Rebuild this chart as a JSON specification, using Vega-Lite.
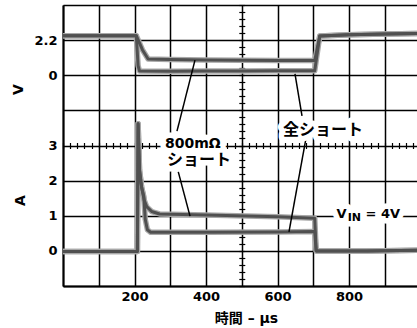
{
  "$schema": "https://vega.github.io/schema/vega-lite/v6.json",
  "width": 354,
  "height": 281,
  "autosize": {"type": "none"},
  "padding": {"left": 63, "top": 5, "right": 0, "bottom": 42},
  "background": "white",
  "config": {
    "view": {"stroke": null},
    "axis": {"labelFont": "DejaVu Sans", "labelFontWeight": "bold", "labelFontSize": 13, "labelColor": "#000", "titleFont": "DejaVu Sans, Noto Sans CJK JP", "titleFontWeight": "bold", "titleFontSize": 14, "titleColor": "#000", "grid": false, "ticks": false, "domain": false, "labelOverlap": false, "labelBound": false, "zindex": 0},
    "text": {"font": "DejaVu Sans, Noto Sans CJK JP", "fontWeight": "bold", "color": "#000"}
  },
  "datasets": {
    "volt": [
      {"s": "800mΩ", "t": 0, "v": 2.48}, {"s": "800mΩ", "t": 100, "v": 2.48}, {"s": "800mΩ", "t": 205, "v": 2.48}, {"s": "800mΩ", "t": 222, "v": 1.6}, {"s": "800mΩ", "t": 238, "v": 1.02}, {"s": "800mΩ", "t": 300, "v": 0.98}, {"s": "800mΩ", "t": 400, "v": 0.96}, {"s": "800mΩ", "t": 500, "v": 0.94}, {"s": "800mΩ", "t": 600, "v": 0.92}, {"s": "800mΩ", "t": 704, "v": 0.92}, {"s": "800mΩ", "t": 718, "v": 2.46}, {"s": "800mΩ", "t": 800, "v": 2.54}, {"s": "800mΩ", "t": 900, "v": 2.58}, {"s": "800mΩ", "t": 990, "v": 2.62},
      {"s": "全ショート", "t": 0, "v": 2.48}, {"s": "全ショート", "t": 100, "v": 2.48}, {"s": "全ショート", "t": 205, "v": 2.48}, {"s": "全ショート", "t": 210, "v": 0.6}, {"s": "全ショート", "t": 214, "v": 0.26}, {"s": "全ショート", "t": 300, "v": 0.25}, {"s": "全ショート", "t": 400, "v": 0.26}, {"s": "全ショート", "t": 500, "v": 0.27}, {"s": "全ショート", "t": 600, "v": 0.28}, {"s": "全ショート", "t": 704, "v": 0.28}, {"s": "全ショート", "t": 718, "v": 2.46}, {"s": "全ショート", "t": 800, "v": 2.54}, {"s": "全ショート", "t": 900, "v": 2.58}, {"s": "全ショート", "t": 990, "v": 2.62}
    ],
    "amp": [
      {"s": "800mΩ", "t": 0, "a": -0.02}, {"s": "800mΩ", "t": 100, "a": -0.02}, {"s": "800mΩ", "t": 208, "a": -0.02}, {"s": "800mΩ", "t": 210, "a": 3.62}, {"s": "800mΩ", "t": 214, "a": 2.3}, {"s": "800mΩ", "t": 220, "a": 1.8}, {"s": "800mΩ", "t": 227, "a": 1.45}, {"s": "800mΩ", "t": 234, "a": 1.26}, {"s": "800mΩ", "t": 248, "a": 1.12}, {"s": "800mΩ", "t": 270, "a": 1.05}, {"s": "800mΩ", "t": 400, "a": 1.02}, {"s": "800mΩ", "t": 600, "a": 0.97}, {"s": "800mΩ", "t": 704, "a": 0.93}, {"s": "800mΩ", "t": 708, "a": 0.0}, {"s": "800mΩ", "t": 850, "a": 0.0}, {"s": "800mΩ", "t": 990, "a": 0.02},
      {"s": "全ショート", "t": 0, "a": -0.02}, {"s": "全ショート", "t": 100, "a": -0.02}, {"s": "全ショート", "t": 208, "a": -0.02}, {"s": "全ショート", "t": 210, "a": 3.62}, {"s": "全ショート", "t": 214, "a": 2.3}, {"s": "全ショート", "t": 220, "a": 1.8}, {"s": "全ショート", "t": 226, "a": 1.55}, {"s": "全ショート", "t": 230, "a": 0.9}, {"s": "全ショート", "t": 236, "a": 0.6}, {"s": "全ショート", "t": 245, "a": 0.53}, {"s": "全ショート", "t": 400, "a": 0.53}, {"s": "全ショート", "t": 600, "a": 0.54}, {"s": "全ショート", "t": 704, "a": 0.55}, {"s": "全ショート", "t": 708, "a": 0.0}, {"s": "全ショート", "t": 850, "a": 0.0}, {"s": "全ショート", "t": 990, "a": 0.02}
    ],
    "lead": [
      {"id": 1, "t": 369.1, "a": 5.43}, {"id": 1, "t": 318.8, "a": 3.41},
      {"id": 2, "t": 322.4, "a": 2.25}, {"id": 2, "t": 355.2, "a": 0.99},
      {"id": 3, "t": 648.8, "a": 5.04}, {"id": 3, "t": 668.4, "a": 3.84},
      {"id": 4, "t": 679.6, "a": 3.21}, {"id": 4, "t": 632.0, "a": 0.54}
    ],
    "notes": [
      {"txt": "800mΩ", "t": 285, "a": 2.92, "k": "lat"},
      {"txt": "ショート", "t": 291, "a": 2.44, "k": "jp"},
      {"txt": "全ショート", "t": 615, "a": 3.30, "k": "jp"},
      {"txt": "V", "t": 765, "a": 0.927, "k": "vin"},
      {"txt": "IN", "t": 796, "a": 0.86, "k": "sub"},
      {"txt": "= 4V", "t": 846, "a": 0.927, "k": "vin"}
    ]
  },
  "layer": [
    {
      "data": {"name": "volt"},
      "layer": [
        {
          "mark": {"type": "line", "stroke": "#a8a8a8", "strokeWidth": 5.5, "strokeJoin": "round"},
          "encoding": {
            "x": {"field": "t", "type": "quantitative", "scale": {"domain": [0, 990], "nice": false, "zero": false}, "axis": null},
            "y": {"field": "v", "type": "quantitative", "scale": {"domain": [-13.2, 4.4], "nice": false, "zero": false}, "axis": null},
            "detail": {"field": "s"}
          }
        },
        {
          "mark": {"type": "line", "stroke": "#505050", "strokeWidth": 3, "strokeJoin": "round"},
          "encoding": {
            "x": {"field": "t", "type": "quantitative", "scale": {"domain": [0, 990], "nice": false, "zero": false}, "axis": null},
            "y": {"field": "v", "type": "quantitative", "scale": {"domain": [-13.2, 4.4], "nice": false, "zero": false},
              "axis": {"orient": "left", "values": [0, 2.2], "format": ".1~f", "labelPadding": 6, "title": "V", "titleX": -45, "titleY": 84, "titleAngle": 270, "titleAlign": "center", "titleBaseline": "middle"}},
            "detail": {"field": "s"}
          }
        }
      ],
      "resolve": {"axis": {"x": "independent", "y": "independent"}}
    },
    {
      "layer": [
        {
          "data": {"name": "amp"},
          "mark": {"type": "line", "stroke": "#a8a8a8", "strokeWidth": 5.5, "strokeJoin": "round"},
          "encoding": {
            "x": {"field": "t", "type": "quantitative", "scale": {"domain": [0, 990], "nice": false, "zero": false}, "axis": null},
            "y": {"field": "a", "type": "quantitative", "scale": {"domain": [-1, 7], "nice": false, "zero": false}, "axis": null},
            "detail": {"field": "s"}
          }
        },
        {
          "data": {"name": "amp"},
          "mark": {"type": "line", "stroke": "#505050", "strokeWidth": 3, "strokeJoin": "round"},
          "encoding": {
            "x": {"field": "t", "type": "quantitative", "scale": {"domain": [0, 990], "nice": false, "zero": false},
              "axis": {"orient": "bottom", "values": [0, 100, 200, 300, 400, 500, 600, 700, 800, 900], "format": "d", "grid": true, "gridColor": "#000", "gridWidth": 1.5, "gridOpacity": 1, "domain": true, "domainColor": "#000", "domainWidth": 2, "labelExpr": "datum.value % 200 == 0 && datum.value > 0 ? datum.label : ''", "labelPadding": 4, "labelFlush": false, "title": "時間 – μs", "titleX": 183, "titleY": 32, "titleAlign": "center", "titleBaseline": "middle"}},
            "y": {"field": "a", "type": "quantitative", "scale": {"domain": [-1, 7], "nice": false, "zero": false},
              "axis": {"orient": "left", "values": [-1, 0, 1, 2, 3, 4, 5, 6, 7], "format": "d", "grid": true, "gridColor": "#000", "gridWidth": 1.5, "gridOpacity": 1, "domain": true, "domainColor": "#000", "domainWidth": 2, "labelExpr": "datum.value >= 0 && datum.value <= 3 ? datum.label : ''", "labelPadding": 6, "title": "A", "titleX": -43, "titleY": 195, "titleAngle": 270, "titleAlign": "center", "titleBaseline": "middle"}},
            "detail": {"field": "s"}
          }
        },
        {
          "data": {"name": "lead"},
          "mark": {"type": "line", "stroke": "#000", "strokeWidth": 1.5},
          "encoding": {
            "x": {"field": "t", "type": "quantitative", "scale": {"domain": [0, 990], "nice": false, "zero": false},
              "axis": {"orient": "bottom", "offset": -143.5, "tickCount": 50, "ticks": true, "tickSize": 6, "tickColor": "#000", "tickWidth": 1.2, "labels": false, "domain": false, "grid": false, "title": null}},
            "y": {"field": "a", "type": "quantitative", "scale": {"domain": [-1, 7], "nice": false, "zero": false},
              "axis": {"orient": "left", "offset": -181.8, "tickCount": 40, "ticks": true, "tickSize": 6, "tickColor": "#000", "tickWidth": 1.2, "labels": false, "domain": false, "grid": false, "title": null}},
            "detail": {"field": "id"}
          }
        },
        {
          "data": {"name": "notes"},
          "transform": [{"filter": "datum.k == 'lat'"}],
          "mark": {"type": "text", "align": "left", "baseline": "alphabetic", "fontSize": 14, "fill": "#fff", "stroke": "#fff", "strokeWidth": 11, "strokeJoin": "round"},
          "encoding": {
            "x": {"field": "t", "type": "quantitative", "scale": {"domain": [0, 990], "nice": false, "zero": false}, "axis": null},
            "y": {"field": "a", "type": "quantitative", "scale": {"domain": [-1, 7], "nice": false, "zero": false}, "axis": null},
            "text": {"field": "txt"}
          }
        },
        {
          "data": {"name": "notes"},
          "transform": [{"filter": "datum.k == 'jp'"}],
          "mark": {"type": "text", "align": "left", "baseline": "alphabetic", "fontSize": 16, "fill": "#fff", "stroke": "#fff", "strokeWidth": 11, "strokeJoin": "round"},
          "encoding": {
            "x": {"field": "t", "type": "quantitative", "scale": {"domain": [0, 990], "nice": false, "zero": false}, "axis": null},
            "y": {"field": "a", "type": "quantitative", "scale": {"domain": [-1, 7], "nice": false, "zero": false}, "axis": null},
            "text": {"field": "txt"}
          }
        },
        {
          "data": {"name": "notes"},
          "transform": [{"filter": "datum.k == 'vin'"}],
          "mark": {"type": "text", "align": "left", "baseline": "alphabetic", "fontSize": 13, "fill": "#fff", "stroke": "#fff", "strokeWidth": 11, "strokeJoin": "round"},
          "encoding": {
            "x": {"field": "t", "type": "quantitative", "scale": {"domain": [0, 990], "nice": false, "zero": false}, "axis": null},
            "y": {"field": "a", "type": "quantitative", "scale": {"domain": [-1, 7], "nice": false, "zero": false}, "axis": null},
            "text": {"field": "txt"}
          }
        },
        {
          "data": {"name": "notes"},
          "transform": [{"filter": "datum.k == 'sub'"}],
          "mark": {"type": "text", "align": "left", "baseline": "alphabetic", "fontSize": 11, "fill": "#fff", "stroke": "#fff", "strokeWidth": 11, "strokeJoin": "round"},
          "encoding": {
            "x": {"field": "t", "type": "quantitative", "scale": {"domain": [0, 990], "nice": false, "zero": false}, "axis": null},
            "y": {"field": "a", "type": "quantitative", "scale": {"domain": [-1, 7], "nice": false, "zero": false}, "axis": null},
            "text": {"field": "txt"}
          }
        },
        {
          "data": {"name": "notes"},
          "transform": [{"filter": "datum.k == 'lat'"}],
          "mark": {"type": "text", "align": "left", "baseline": "alphabetic", "fontSize": 14, "fill": "#000"},
          "encoding": {
            "x": {"field": "t", "type": "quantitative", "scale": {"domain": [0, 990], "nice": false, "zero": false}, "axis": null},
            "y": {"field": "a", "type": "quantitative", "scale": {"domain": [-1, 7], "nice": false, "zero": false}, "axis": null},
            "text": {"field": "txt"}
          }
        },
        {
          "data": {"name": "notes"},
          "transform": [{"filter": "datum.k == 'jp'"}],
          "mark": {"type": "text", "align": "left", "baseline": "alphabetic", "fontSize": 16, "fill": "#000"},
          "encoding": {
            "x": {"field": "t", "type": "quantitative", "scale": {"domain": [0, 990], "nice": false, "zero": false}, "axis": null},
            "y": {"field": "a", "type": "quantitative", "scale": {"domain": [-1, 7], "nice": false, "zero": false}, "axis": null},
            "text": {"field": "txt"}
          }
        },
        {
          "data": {"name": "notes"},
          "transform": [{"filter": "datum.k == 'vin'"}],
          "mark": {"type": "text", "align": "left", "baseline": "alphabetic", "fontSize": 13, "fill": "#000"},
          "encoding": {
            "x": {"field": "t", "type": "quantitative", "scale": {"domain": [0, 990], "nice": false, "zero": false}, "axis": null},
            "y": {"field": "a", "type": "quantitative", "scale": {"domain": [-1, 7], "nice": false, "zero": false}, "axis": null},
            "text": {"field": "txt"}
          }
        },
        {
          "data": {"name": "notes"},
          "transform": [{"filter": "datum.k == 'sub'"}],
          "mark": {"type": "text", "align": "left", "baseline": "alphabetic", "fontSize": 11, "fill": "#000"},
          "encoding": {
            "x": {"field": "t", "type": "quantitative", "scale": {"domain": [0, 990], "nice": false, "zero": false}, "axis": null},
            "y": {"field": "a", "type": "quantitative", "scale": {"domain": [-1, 7], "nice": false, "zero": false}, "axis": null},
            "text": {"field": "txt"}
          }
        }
      ],
      "resolve": {"axis": {"x": "independent", "y": "independent"}}
    }
  ],
  "resolve": {"scale": {"y": "independent"}, "axis": {"x": "independent", "y": "independent"}}
}
